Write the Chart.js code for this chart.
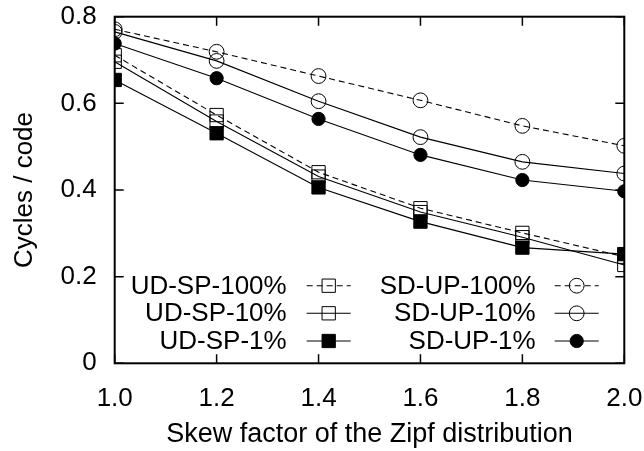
<!DOCTYPE html>
<html>
<head>
<meta charset="utf-8">
<script src="https://cdn.jsdelivr.net/npm/chart.js@4"></script>
<style>
  html, body { margin: 0; padding: 0; background: #fff; }
  #wrap { width: 644px; height: 451px; }
</style>
</head>
<body>
<div id="wrap"><canvas id="cyclesChart" width="644" height="451"></canvas></div>
<script>
// ===== Data: cycles per code vs Zipf skew =====
const skews = [1.0, 1.2, 1.4, 1.6, 1.8, 2.0];
const yTicks = [0, 0.2, 0.4, 0.6, 0.8];

const udsp100 = [0.711, 0.573, 0.441, 0.358, 0.301, 0.246];
const udsp10  = [0.696, 0.558, 0.431, 0.349, 0.291, 0.227];
const udsp1   = [0.654, 0.531, 0.406, 0.327, 0.267, 0.252];
const sdup100 = [0.771, 0.719, 0.663, 0.607, 0.548, 0.502];
const sdup10  = [0.765, 0.698, 0.605, 0.522, 0.465, 0.438];
const sdup1   = [0.738, 0.658, 0.564, 0.481, 0.423, 0.397];

const FONT = "'Liberation Sans', Arial, Helvetica, sans-serif";
const DASH = [6, 4];

function points(values) {
  return values.map((v, i) => ({ x: skews[i], y: v }));
}

function series(label, values, style, filled, dashed) {
  let r = style === "rect" ? 9.4 : 7.4;
  if (filled && style === "circle") r = 6.6;
  return {
    label: label,
    data: points(values),
    borderColor: "#000",
    borderWidth: 1.1,
    borderDash: dashed ? DASH : [],
    pointStyle: style,
    pointRadius: r,
    pointBorderWidth: 1,
    pointBorderColor: "#000",
    pointBackgroundColor: filled ? "#000" : "rgba(0,0,0,0)",
    fill: false,
    tension: 0
  };
}

const datasets = [
  series("UD-SP-100%", udsp100, "rect", false, true),
  series("UD-SP-10%", udsp10, "rect", false, false),
  series("UD-SP-1%", udsp1, "rect", true, false),
  series("SD-UP-100%", sdup100, "circle", false, true),
  series("SD-UP-10%", sdup10, "circle", false, false),
  series("SD-UP-1%", sdup1, "circle", true, false)
];

// box frame with inward ticks on all four sides
const framePlugin = {
  id: "frame",
  afterDatasetsDraw(chart) {
    const { ctx, chartArea: a, scales } = chart;
    const tl = 9;
    ctx.save();
    ctx.strokeStyle = "#000";
    ctx.lineWidth = 1.5;
    ctx.beginPath();
    skews.forEach(v => {
      const x = scales.x.getPixelForValue(v);
      ctx.moveTo(x, a.bottom); ctx.lineTo(x, a.bottom - tl);
      ctx.moveTo(x, a.top); ctx.lineTo(x, a.top + tl);
    });
    yTicks.forEach(v => {
      const y = scales.y.getPixelForValue(v);
      ctx.moveTo(a.left, y); ctx.lineTo(a.left + tl, y);
      ctx.moveTo(a.right, y); ctx.lineTo(a.right - tl, y);
    });
    ctx.stroke();
    ctx.lineWidth = 2;
    ctx.strokeRect(a.left, a.top, a.right - a.left, a.bottom - a.top);
    ctx.restore();
  }
};

// gnuplot-style key: label right-aligned, then a line sample with its marker
const keyPlugin = {
  id: "key",
  afterDraw(chart) {
    const { ctx, chartArea: a } = chart;
    const cols = [
      { textRight: a.left + 172, sample: a.left + 192 },
      { textRight: a.left + 421, sample: a.left + 440 }
    ];
    const rows = [a.top + 269, a.top + 296.6, a.top + 324.3];
    const sampleLen = 44;
    ctx.save();
    ctx.font = "26px " + FONT;
    ctx.textAlign = "right";
    ctx.textBaseline = "middle";
    chart.data.datasets.forEach((ds, i) => {
      const c = cols[Math.floor(i / 3)];
      const y = rows[i % 3];
      ctx.fillStyle = "#000";
      ctx.fillText(ds.label, c.textRight, y + 1);
      ctx.strokeStyle = "#000";
      ctx.lineWidth = 1.1;
      ctx.setLineDash(ds.borderDash);
      ctx.beginPath();
      ctx.moveTo(c.sample, y);
      ctx.lineTo(c.sample + sampleLen, y);
      ctx.stroke();
      ctx.setLineDash([]);
      ctx.lineWidth = 1;
      ctx.fillStyle = ds.pointBackgroundColor;
      Chart.helpers.drawPoint(ctx, {
        pointStyle: ds.pointStyle,
        radius: ds.pointRadius,
        borderWidth: 1
      }, c.sample + sampleLen / 2, y);
    });
    ctx.restore();
  }
};

const cyclesCtx = document.getElementById("cyclesChart");
new Chart(cyclesCtx.getContext("2d"), {
  type: "line",
  data: { datasets: datasets },
  options: {
    responsive: false,
    animation: false,
    layout: { padding: { top: 16.7, right: 19.7, left: 0, bottom: 0 } },
    plugins: {
      legend: { display: false },
      tooltip: { enabled: false }
    },
    scales: {
      x: {
        type: "linear",
        min: 1.0,
        max: 2.0,
        afterBuildTicks: s => { s.ticks = skews.map(v => ({ value: v })); },
        afterFit: s => {
          s.height = 451 - 363.3;
          s.paddingLeft = 0;
          s.paddingRight = 0;
        },
        border: { display: false },
        grid: { display: false, drawTicks: false },
        ticks: {
          color: "#000",
          padding: 20,
          maxRotation: 0,
          font: { family: FONT, size: 26 },
          callback: v => Number(v).toFixed(1)
        },
        title: {
          display: true,
          text: "Skew factor of the Zipf distribution",
          color: "#000",
          font: { family: FONT, size: 27 },
          padding: { top: 0, bottom: 0 }
        }
      },
      y: {
        min: 0,
        max: 0.8,
        afterBuildTicks: s => { s.ticks = yTicks.map(v => ({ value: v })); },
        afterFit: s => {
          s.width = 114.7;
          s.paddingTop = 0;
          s.paddingBottom = 0;
        },
        border: { display: false },
        grid: { display: false, drawTicks: false },
        ticks: {
          color: "#000",
          padding: 18,
          font: { family: FONT, size: 26 },
          callback: v => (v === 0 ? "0" : Number(v).toFixed(1))
        },
        title: {
          display: true,
          text: "Cycles / code",
          color: "#000",
          font: { family: FONT, size: 26 },
          padding: { top: 9.4, bottom: 0 }
        }
      }
    }
  },
  plugins: [framePlugin, keyPlugin]
});
</script>
</body>
</html>
